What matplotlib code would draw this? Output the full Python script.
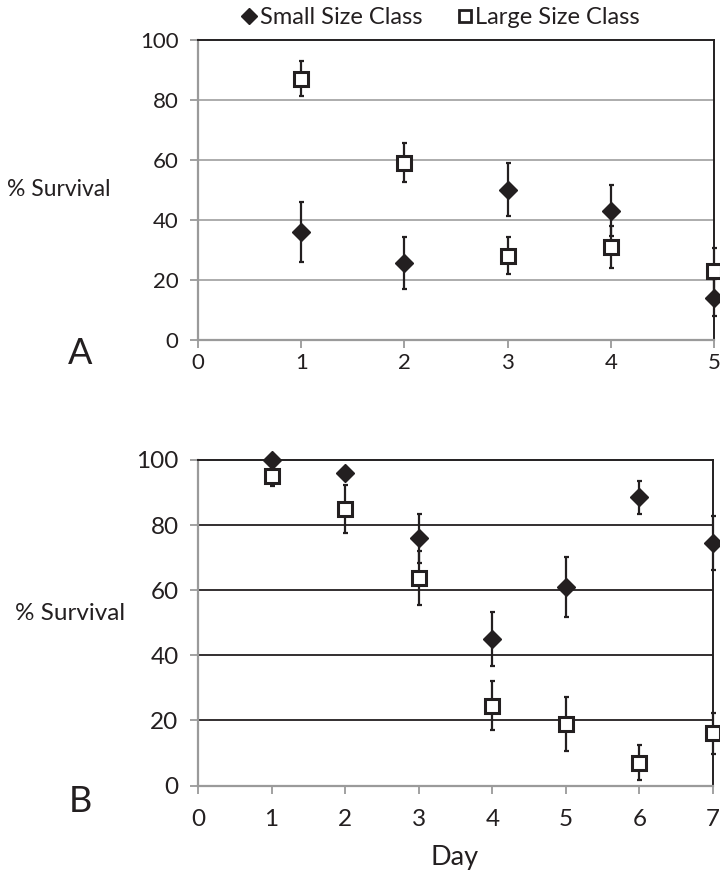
import matplotlib
matplotlib.use('Agg')
import matplotlib.pyplot as plt
from matplotlib.lines import Line2D

plt.rcParams['font.family'] = ['Lato', 'DejaVu Sans']

# Panel A data (days 1-5)
days_a = [1, 2, 3, 4, 5]
small_a = [36, 25.5, 50, 43, 14]
small_a_err = [10, 8.7, 8.7, 8.6, 6.2]
large_a = [87, 59, 28, 31, 23]
large_a_err = [5.8, 6.5, 6.2, 7, 7.5]

# Panel B data (days 1-7)
days_b = [1, 2, 3, 4, 5, 6, 7]
small_b = [100, 96, 76, 45, 61, 88.5, 74.5]
small_b_err = [0, 0, 7.5, 8.3, 9.3, 5, 8.2]
large_b = [95, 85, 63.8, 24.5, 19, 7, 16]
large_b_err = [3, 7.3, 8.2, 7.6, 8.3, 5.4, 6.3]

y_ticks = [0, 20, 40, 60, 80, 100]
labels = ['Small Size Class', 'Large Size Class']

W, H = 720, 875
fig = plt.figure(figsize=(7.2, 8.75), dpi=100)


def px_axes(l, t, r, b):
    return fig.add_axes([l / W, 1 - b / H, (r - l) / W, (b - t) / H])


ax_a = px_axes(198, 39.5, 714, 339.5)
ax_b = px_axes(198, 460, 713, 785.5)

dark = '#231f20'
spine_gray = '#9a9a9a'


def draw_panel(ax, days, small, small_err, large, large_err, xmax, grid_color,
               fs, xpad):
    ax.set_xlim(0, xmax)
    ax.set_ylim(0, 100)
    ax.set_xticks(range(0, xmax + 1))
    ax.set_yticks(y_ticks)
    for y in y_ticks[1:-1]:
        ax.axhline(y, color=grid_color, lw=1.3, zorder=1)
    for s in ['left', 'bottom']:
        ax.spines[s].set_color(spine_gray)
        ax.spines[s].set_linewidth(1.6)
    for s in ['top', 'right']:
        ax.spines[s].set_color(dark)
        ax.spines[s].set_linewidth(1.4)
    ax.tick_params(axis='both', colors=spine_gray, width=1.3, length=6,
                   labelcolor='#231f20', labelsize=fs)
    ax.tick_params(axis='y', pad=8)
    ax.tick_params(axis='x', pad=xpad)

    for vals, errs in [(small, small_err), (large, large_err)]:
        eb = ax.errorbar(days, vals, yerr=errs, fmt='none', ecolor=dark,
                         elinewidth=1.6, capsize=1.8, capthick=1.6, zorder=3)
        for art in eb.lines[1] + eb.lines[2]:
            art.set_clip_on(False)

    ax.plot(days, small, linestyle='none', marker='D', markersize=9,
            color=dark, clip_on=False, zorder=4)
    ax.plot(days, large, linestyle='none', marker='s', markersize=9.5,
            markerfacecolor='white', markeredgecolor=dark,
            markeredgewidth=2.2, clip_on=False, zorder=4)


draw_panel(ax_a, days_a, small_a, small_a_err, large_a, large_a_err, 5,
           '#a6a6a6', 16, 4)
draw_panel(ax_b, days_b, small_b, small_b_err, large_b, large_b_err, 7,
           dark, 17.5, 11)

# y labels and panel letters
fig.text(7 / W, 1 - 190 / H, '% Survival', fontsize=16.5, color=dark,
         ha='left', va='center')
fig.text(15 / W, 1 - 613 / H, '% Survival', fontsize=17.5, color=dark,
         ha='left', va='center')
fig.text(80 / W, 1 - 354 / H, 'A', fontsize=26, color=dark,
         ha='center', va='center')
fig.text(80 / W, 1 - 801 / H, 'B', fontsize=26, color=dark,
         ha='center', va='center')
fig.text(455 / W, 1 - 858 / H, 'Day', fontsize=19.5, color=dark,
         ha='center', va='center')

# legend at the top
handles = [
    Line2D([], [], linestyle='none', marker='D', markersize=8.5, color=dark),
    Line2D([], [], linestyle='none', marker='s', markersize=9,
           markerfacecolor='white', markeredgecolor=dark, markeredgewidth=2),
]
fig.legend(handles, labels, loc='center', bbox_to_anchor=(441 / W, 1 - 18 / H),
           ncol=2, frameon=False, fontsize=17, handlelength=0.6,
           handletextpad=0.15, columnspacing=1.5, labelcolor=dark,
           borderpad=0, borderaxespad=0)

fig.savefig('out.png', dpi=100)
